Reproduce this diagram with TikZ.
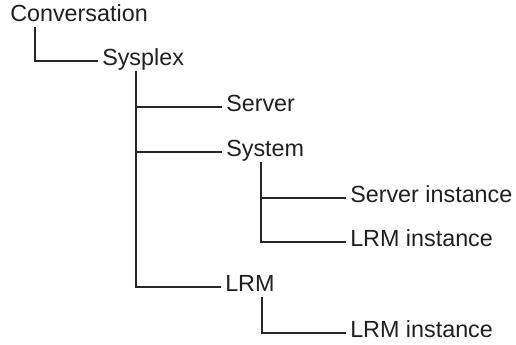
\documentclass[tikz,border=0pt]{standalone}
\usepackage{fontspec}
\setmainfont{Liberation Sans}
\usetikzlibrary{calc}

\begin{document}
\begin{tikzpicture}[
    x=0.75pt, y=-0.75pt,
    font=\fontsize{17.5}{21}\selectfont,
    % Tree styles
    item/.style={anchor=west, text=black!88, text height=0.716em, text depth=0pt, inner xsep=3pt, inner ysep=4pt},
    link/.style={draw=black!85, line width=1pt}
]
\useasboundingbox (0,0) rectangle (516,345);

% --- Level 0 and 1 ---
\node[item] (conv) at (6,17) {Conversation};
\node[item] (sysplex) at (98,61) {Sysplex};
\draw[link] ($(conv.south west)+(29,0)$) |- (sysplex.west);

% --- Sysplex branches ---
\node[item] (server) at (222,107) {Server};
\node[item] (system) at (222,152) {System};
\node[item] (lrm) at (221,287) {LRM};
\coordinate (sysplexTrunk) at ($(sysplex.south west)+(38,0)$);
\draw[link] (sysplexTrunk) |- (lrm.west);
\draw[link] (sysplexTrunk |- server.west) -- (server.west);
\draw[link] (sysplexTrunk |- system.west) -- (system.west);

% --- System branches ---
\node[item] (serverInst) at (346,198) {Server instance};
\node[item] (lrmInstA) at (346,242) {LRM instance};
\coordinate (systemTrunk) at ($(system.south west)+(39,0)$);
\draw[link] (systemTrunk) |- (lrmInstA.west);
\draw[link] (systemTrunk |- serverInst.west) -- (serverInst.west);

% --- LRM branch ---
\node[item] (lrmInstB) at (346,333) {LRM instance};
\draw[link] ($(lrm.south west)+(41,0)$) |- (lrmInstB.west);

\end{tikzpicture}
\end{document}
